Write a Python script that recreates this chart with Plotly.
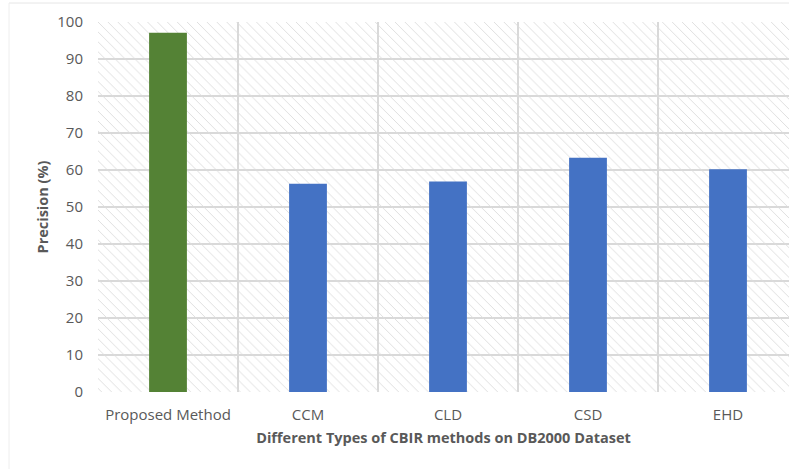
import plotly.graph_objects as go

categories = ["Proposed Method", "CCM", "CLD", "CSD", "EHD"]
precision = [97.1, 56.3, 56.9, 63.3, 60.2]
bar_colors = ["#548235", "#4472C4", "#4472C4", "#4472C4", "#4472C4"]
y_ticks = list(range(0, 101, 10))
y_max = 100

idx = list(range(len(categories)))

fig = go.Figure()

# hatched plot background (transparent between hatch lines so gridlines show)
fig.add_trace(go.Bar(
    x=idx, y=[y_max] * len(idx), width=1,
    marker=dict(color="#dcdcdc", line=dict(width=0),
                pattern=dict(shape="\\", size=7, solidity=0.13, fillmode="replace")),
    hoverinfo="skip", showlegend=False,
))

fig.add_trace(go.Bar(
    x=idx, y=precision, width=0.27,
    marker=dict(color=bar_colors, line=dict(width=0)),
    showlegend=False,
))

font_family = "Open Sans, Liberation Sans, sans-serif"

fig.update_layout(
    width=789, height=469,
    margin=dict(l=98, r=0, t=22, b=77, autoexpand=False),
    barmode="overlay",
    paper_bgcolor="white", plot_bgcolor="white",
    font=dict(family=font_family, color="#595959", size=14),
    xaxis=dict(
        range=[-0.5, len(categories) - 0.5 - 9 / 140],
        automargin=False,
        tickmode="array", tickvals=idx, ticktext=categories,
        showgrid=False, zeroline=False, showline=False,
        ticks="outside", ticklen=9, tickcolor="rgba(0,0,0,0)",
        tickfont=dict(size=15, color="#595959"),
        minor=dict(tickvals=[i - 0.5 for i in idx], showgrid=True,
                   gridcolor="#d9d9d9", gridwidth=2, ticks=""),
        title=dict(text="<b>Different Types of CBIR methods on DB2000 Dataset</b>",
                   font=dict(size=14.5, color="#595959"), standoff=9),
    ),
    yaxis=dict(
        range=[0, y_max], tickmode="array", tickvals=y_ticks,
        automargin=False,
        showgrid=True, gridcolor="#d9d9d9", gridwidth=2,
        zeroline=False, showline=False,
        ticks="outside", ticklen=11, tickcolor="rgba(0,0,0,0)",
        tickfont=dict(size=15, color="#595959"),
        title=dict(text="<b>Precision (%)</b>", font=dict(size=14.5, color="#595959"), standoff=5),
    ),
    shapes=[
        dict(type="line", xref="paper", yref="paper",
             x0=-89 / 691, x1=1, y0=(392 - 3) / 370, y1=(392 - 3) / 370,
             line=dict(color="#e6e6e6", width=1)),
        dict(type="line", xref="paper", yref="paper",
             x0=-89 / 691, x1=-89 / 691, y0=(392 - 3) / 370, y1=-77 / 370,
             line=dict(color="#eeeeee", width=1)),
    ],
)

fig.write_html("out.html", config={"displayModeBar": False},
               post_script="document.body.style.margin='0';")
